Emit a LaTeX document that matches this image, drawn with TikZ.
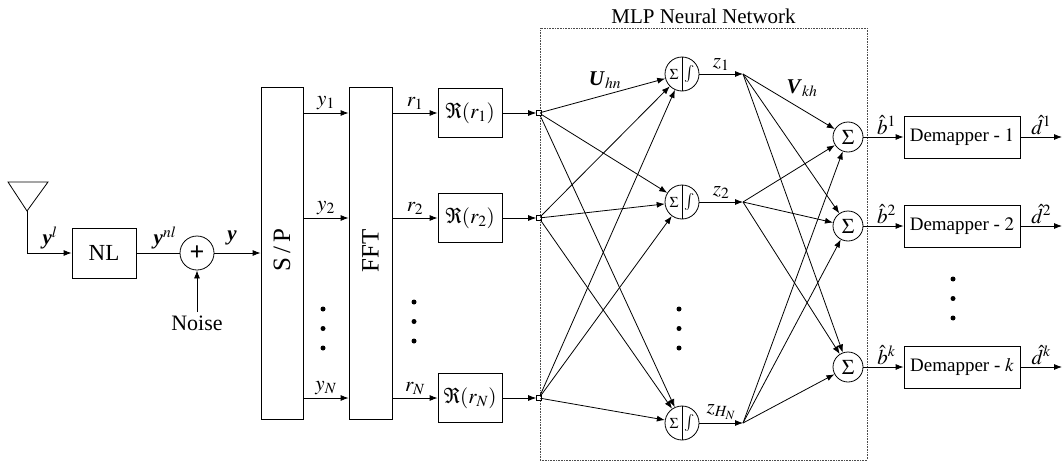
\documentclass[tikz,border=0pt]{standalone}
\usepackage{amsmath}
\usepackage{mathptmx}
\usepackage{fontspec}
\setmainfont{Liberation Serif}
\usetikzlibrary{positioning}
\usetikzlibrary{arrows.meta}
\usetikzlibrary{calc}

\newcommand{\bfit}[1]{\textbf{\textit{#1}}}

\tikzset{
  blk/.style={draw, inner sep=0pt},
  sumint/.style={draw, circle, minimum size=34pt, inner sep=0pt},
  sumnode/.style={draw, circle, minimum size=30pt, inner sep=0pt},
  innode/.style={draw, minimum size=5pt, inner sep=0pt, line width=0.6pt},
  bigtxt/.style={font=\fontsize{25}{28}\selectfont},
  lbl/.style={inner sep=1pt},
}

\begin{document}
\begin{tikzpicture}[x=1pt, y=-1pt, line width=0.8pt,
    >={Latex[length=8pt,width=6pt]},
    every node/.style={font=\fontsize{21}{25}\selectfont}]
    \useasboundingbox (0,0) rectangle (1062,463);

    % front end
    \draw (8,182) -- (48,182) -- (27,211) -- cycle;
    \coordinate (ant) at (27,211);
    \node[blk, minimum width=64pt, minimum height=50pt, font=\fontsize{23}{26}\selectfont] (nl) at (104,253) {NL};
    \node[sumnode, minimum size=34pt, font=\fontsize{26}{26}\selectfont] (add) at (197,253) {\textbf{+}};
    \node[anchor=north, inner sep=4pt, font=\fontsize{22}{25}\selectfont] (noise) at (197,312) {Noise};
    \node[blk, minimum width=42pt, minimum height=332pt] (sp) at (282,253) {};
    \node[bigtxt, rotate=90] (sptxt) at (282,250) {S\,/\,P};
    \node[blk, minimum width=43pt, minimum height=332pt] (fft) at (370.5,253) {};
    \node[bigtxt, rotate=90] (ffttxt) at (370.5,251) {FFT};

    \draw[->] (ant) |- (nl);
    \draw (nl) -- (add);
    \draw[->] (add) -- (sp);
    \draw[->] (noise) -- (add);
    \node (yl) at (50,238) {$\bfit{y}^{l}$};
    \node (ynl) at (165,238) {$\bfit{y}^{nl}$};
    \node (yy) at (232,238) {$\bfit{y}$};

    % MLP block
    \node[draw, densely dotted, black!70, line width=0.6pt, minimum width=327pt, minimum height=432pt] (mlp) at (703.5,244) {};
    \node[above=0pt of mlp] (mlptxt) {MLP Neural Network};

    \foreach \i/\y/\s in {1/113/1, 2/218/2, 3/398/N}
    {
        \node[blk, minimum width=64pt, minimum height=49pt] (re\i) at (470,\y) {$\Re(r_{\s})$};
        \node[innode] (in\i) at (539,\y) {};
        \draw[->] (sp.east |- re\i) -- (fft.west |- re\i) node[lbl, midway, above=2pt] {$y_{\s}$};
        \draw[->] (fft.east |- re\i) -- (re\i) node[lbl, midway, above=2pt] {$r_{\s}$};
        \draw[->] (re\i) -- (in\i);
    }

    \foreach \j/\y/\s in {1/74/1, 2/202/2, 3/423/H_N}
    {
        \node[sumint] (hid\j) at (682,\y) {};
        \draw (hid\j.north) -- (hid\j.south);
        \node[font=\fontsize{15}{15}\selectfont] (sig\j) at ([xshift=-8pt]hid\j.center) {$\Sigma$};
        \node[font=\fontsize{17}{17}\selectfont] (int\j) at ([xshift=8pt]hid\j.center) {$\int$};
        \coordinate (z\j) at (743,\y);
        \draw[->] (hid\j) -- (z\j) node[lbl, midway, above=2pt] {$z_{\s}$};
    }

    \foreach \k/\y/\s in {1/137/1, 2/226/2, 3/367/k}
    {
        \node[sumnode] (out\k) at (848,\y) {$\Sigma$};
        \node[blk, minimum width=116pt, minimum height=42pt, font=\fontsize{19}{22}\selectfont] (dm\k) at (962,\y) {Demapper - $\s$};
        \coordinate (d\k) at (1062,\y);
        \draw[->] (out\k) -- (dm\k) node[lbl, midway, above=1pt, xshift=3pt] {$\hat{b}^{\s}$};
        \draw[->] (dm\k) -- (d\k) node[lbl, midway, above=1pt] {$\hat{d}^{\s}$};
    }

    % weights
    \foreach \i in {1,2,3}
        \foreach \j in {1,2,3}
            \draw[->] (in\i) -- (hid\j);
    \foreach \j in {1,2,3}
        \foreach \k in {1,2,3}
            \draw[->] (z\j) -- (out\k);
    \node (uhn) at (605,80) {$\bfit{U}_{hn}$};
    \node (vkh) at (802,88) {$\bfit{V}_{kh}$};

    % vertical dots
    \foreach \x/\y in {323/309, 414/302, 679/309, 953/279}
        \foreach \d in {0,1,2}
            \fill (\x,\y+\d*19.5) circle (2.5pt);
\end{tikzpicture}
\end{document}
